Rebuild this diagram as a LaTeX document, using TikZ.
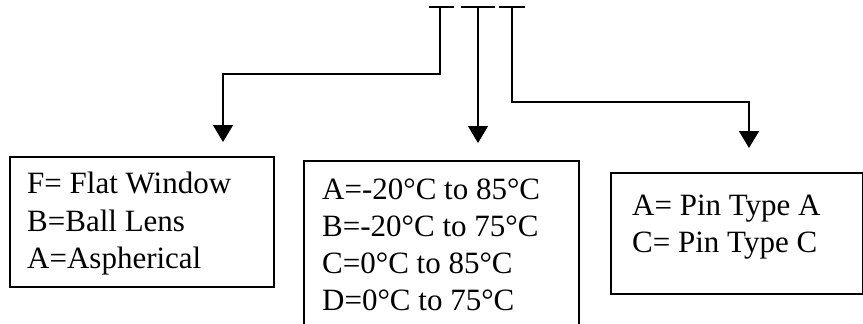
\documentclass[tikz,border=0pt]{standalone}
\usepackage{fontspec}
\setmainfont{Liberation Serif}
\usetikzlibrary{arrows.meta, positioning}

\begin{document}
\begin{tikzpicture}[x=1pt, y=1pt,
    box/.style={draw, line width=1.6pt, anchor=north west, inner sep=0pt},
    entry/.style={font=\fontsize{31}{37}\selectfont, align=left, inner sep=0pt},
    arrow/.style={-{Triangle[length=17pt, width=20pt]}, line width=1.6pt},
    codebar/.style={line width=2pt}
  ]
    \useasboundingbox (0,0) rectangle (863,-324);

    % part number slots
    \coordinate (code1) at (440,-7);
    \coordinate (code2) at (478,-7);
    \coordinate (code3) at (512,-7);
    \draw[codebar] ([xshift=-11pt]code1) -- ([xshift=14pt]code1);
    \draw[codebar] ([xshift=-17pt]code2) -- ([xshift=17pt]code2);
    \draw[codebar] ([xshift=-13pt]code3) -- ([xshift=13pt]code3);

    % option boxes
    \node[box, minimum width=264pt, minimum height=130pt] (lensbox) at (9,-156) {};
    \node[box, minimum width=275pt, minimum height=185pt] (tempbox) at (303,-160) {};
    \node[box, minimum width=252pt, minimum height=121pt] (pinbox) at (610,-172) {};

    \node[entry, font=\fontsize{31}{37.5}\selectfont, below right=16pt and 18pt of lensbox.north west] (lenstext)
      {F= Flat Window\\B=Ball Lens\\A=Aspherical};
    \node[entry, below right=19pt and 19pt of tempbox.north west] (temptext)
      {A=-20°C to 85°C\\B=-20°C to 75°C\\C=0°C to 85°C\\D=0°C to 75°C};
    \node[entry, below right=23pt and 22pt of pinbox.north west] (pintext)
      {A= Pin Type A\\C= Pin Type C};

    % arrow ends above the boxes
    \coordinate (lensin) at (223,-142);
    \coordinate (tempin) at (478,-143);
    \coordinate (pinin) at (749,-148);

    \draw[arrow] (code1) -- ++(0,-67) -| (lensin);
    \draw[arrow, line width=1.1pt] (code2) -- (tempin);
    \draw[arrow] (code3) -- ++(0,-95) -| (pinin);
\end{tikzpicture}
\end{document}
